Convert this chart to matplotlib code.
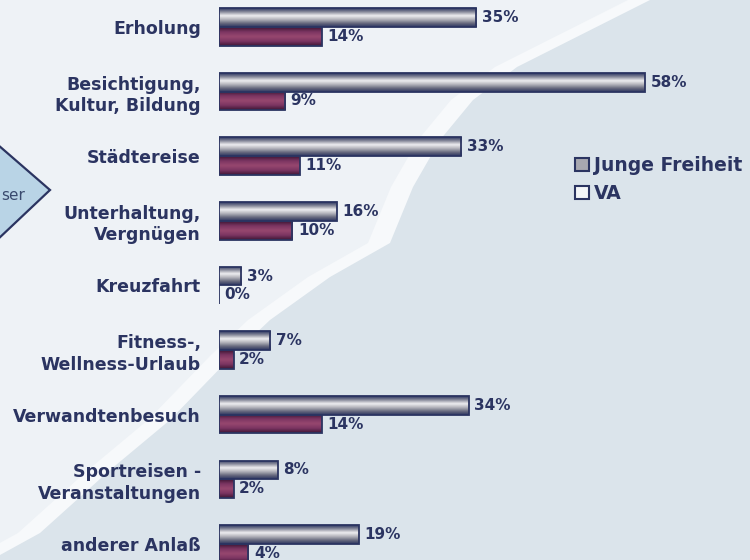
import numpy as np
import matplotlib.pyplot as plt
from matplotlib.colors import LinearSegmentedColormap
from matplotlib.patches import Patch, Polygon

categories = ["Erholung", "Besichtigung,\nKultur, Bildung", "Städtereise",
              "Unterhaltung,\nVergnügen", "Kreuzfahrt", "Fitness-,\nWellness-Urlaub",
              "Verwandtenbesuch", "Sportreisen -\nVeranstaltungen", "anderer Anlaß"]
junge_freiheit = [35, 58, 33, 16, 3, 7, 34, 8, 19]
va = [14, 9, 11, 10, 0, 2, 14, 2, 4]
series_names = ["Junge Freiheit", "VA"]

navy = "#2b3461"
light_bg = "#eef2f6"
streak_bg = "#f7f9fb"
dark_bg = "#dbe4eb"

grey_cmap = LinearSegmentedColormap.from_list(
    "greybar", ["#2c3560", "#8a8c9c", "#eeeef0", "#b4b4bc", "#6a6c80", "#2c3560"])
maroon_cmap = LinearSegmentedColormap.from_list(
    "maroonbar", ["#3e1634", "#7c3562", "#97476f", "#7c3562", "#3e1634"])

fig = plt.figure(figsize=(7.5, 5.6), dpi=100)
fig.patch.set_facecolor(dark_bg)

# background shapes (pixel coordinates)
bg = fig.add_axes([0, 0, 1, 1], zorder=0)
bg.set_xlim(0, 750)
bg.set_ylim(560, 0)
bg.axis("off")
edge = [(650, 0), (517, 67), (473, 100), (440, 140), (413, 187), (390, 243),
        (330, 277), (270, 320), (233, 355), (170, 420), (110, 470), (40, 533), (0, 555)]
bg.add_patch(Polygon([(0, 0)] + edge, closed=True, facecolor=streak_bg, edgecolor="none"))
inner = [(x - 22, y) for x, y in edge]
bg.add_patch(Polygon([(-30, 0)] + inner, closed=True, facecolor=light_bg, edgecolor="none"))
bg.add_patch(Polygon([(-40, 112), (50, 190), (-40, 275)], closed=True,
                     facecolor="#b9d4e6", edgecolor=navy, linewidth=1.6))
bg.text(1, 195, "ser", ha="left", va="center", fontsize=11, color="#3a4a6e")

ax = fig.add_axes([219 / 750, 0, 531 / 750, 1], zorder=1)
ax.patch.set_alpha(0)
y = np.arange(len(categories))
h = 0.29

grad = np.linspace(0, 1, 64).reshape(-1, 1)
for offset, vals, cmap in [(-h / 2, junge_freiheit, grey_cmap), (h / 2, va, maroon_cmap)]:
    bars = ax.barh(y + offset, vals, height=h, facecolor="none", edgecolor=navy, linewidth=1.3)
    for b, v in zip(bars, vals):
        if v > 0:
            x0, y0 = b.get_x(), b.get_y()
            im = ax.imshow(grad, cmap=cmap, aspect="auto",
                           extent=[x0, x0 + b.get_width(), y0 + b.get_height(), y0],
                           zorder=1, interpolation="bilinear")
            im.set_clip_path(b)
        b.set_zorder(2)
        ax.annotate(f"{v}%", (v, b.get_y() + b.get_height() / 2), xytext=(4, 0),
                    textcoords="offset points", ha="left", va="center",
                    fontsize=11, fontweight="bold", color=navy)

ax.set_xlim(0, 72.3)
ax.set_ylim(8.25, -0.418)
ax.set_yticks(y)
ax.set_yticklabels(categories, fontsize=12.5, fontweight="bold", color=navy, linespacing=1.25)
ax.tick_params(axis="y", length=0, pad=13)
ax.set_xticks([])
for s in ax.spines.values():
    s.set_visible(False)

handles = [Patch(facecolor="#a8a8b0", edgecolor=navy, linewidth=1.5),
           Patch(facecolor="#f4f6f8", edgecolor=navy, linewidth=1.5)]
fig.legend(handles, series_names, loc="upper left", bbox_to_anchor=(566 / 750, 1 - 147 / 560),
           frameon=False, handlelength=0.7, handleheight=0.7, handletextpad=0.3,
           labelspacing=0.45, borderpad=0, prop={"size": 13.5, "weight": "bold"},
           labelcolor=navy)

fig.savefig("out.png", dpi=100)
